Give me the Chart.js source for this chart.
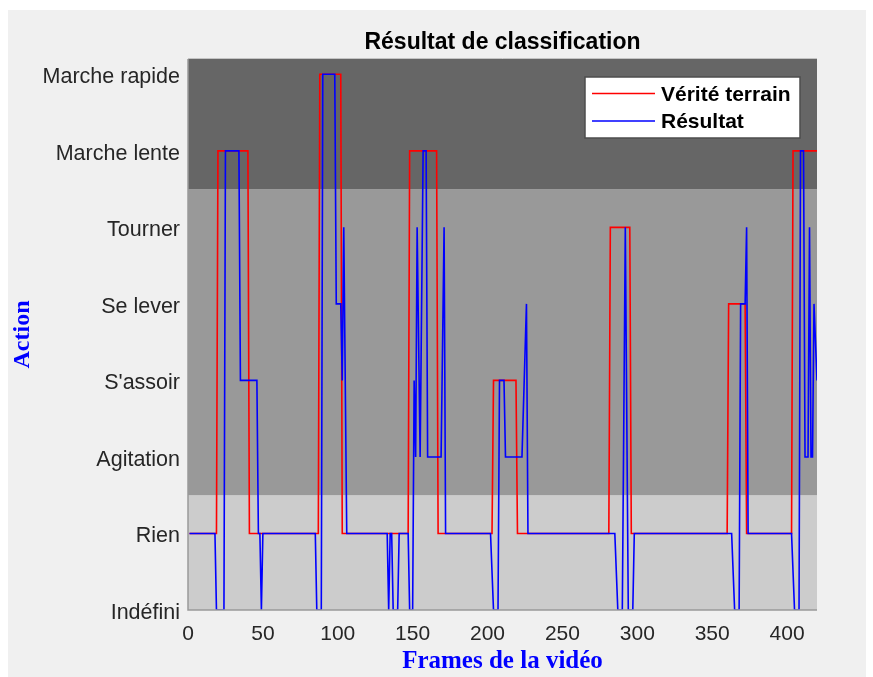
<!DOCTYPE html>
<html>
<head>
<meta charset="utf-8">
<script src="https://cdn.jsdelivr.net/npm/chart.js@4"></script>
<style>
  html, body { margin: 0; padding: 0; background: #ffffff; }
  #panel { position: absolute; left: 8px; top: 10px; width: 858px; height: 667px; background: #f0f0f0; }
  #c { position: absolute; left: 0; top: 0; }
</style>
</head>
<body>
<div id="panel"></div>
<canvas id="c" width="873" height="677"></canvas>
<script>
// ---- data ----
const yLabels = ['Indéfini', 'Rien', 'Agitation', "S'assoir", 'Se lever', 'Tourner', 'Marche lente', 'Marche rapide'];
const xTicks = [0, 50, 100, 150, 200, 250, 300, 350, 400];
const lastFrame = 420;

// Vérité terrain: segment start frames and their class index
const gtStart = [1, 20, 41, 88, 103, 148, 167, 204, 220, 282, 296, 361, 373, 404];
const gtLabel = [1, 6, 1, 7, 1, 6, 1, 3, 1, 5, 1, 4, 1, 6];

// Résultat: vertices (frame, class index)
const resFrames = [1, 18, 19, 24, 25, 34, 35, 46, 47, 48, 49, 50, 85, 86, 89, 90, 98, 99, 102, 103, 104, 106,
  133, 134, 135, 136, 137, 140, 141, 147, 148, 150, 151, 152, 153, 155, 157, 159, 160, 169, 171, 172,
  202, 204, 207, 208, 211, 212, 223, 226, 227,
  285, 287, 290, 292, 294, 297, 298,
  363, 365, 368, 369, 372, 373, 374,
  403, 405, 408, 409, 411, 412, 414, 415, 416, 417, 418, 420];
const resLabels = [1, 1, 0, 0, 6, 6, 3, 3, 1, 1, 0, 1, 1, 0, 0, 7, 7, 4, 4, 3, 5, 1,
  1, 0, 1, 1, 0, 0, 1, 1, 0, 0, 3, 2, 5, 2, 6, 6, 2, 2, 5, 1,
  1, 0, 0, 3, 3, 2, 2, 4, 1,
  1, 0, 0, 5, 0, 0, 1,
  1, 0, 0, 4, 4, 5, 1,
  1, 0, 0, 6, 6, 2, 2, 5, 2, 2, 4, 3];

// background bands (class-index ranges) and their colours
const bandEdges = [0, 1.5, 5.5, 7.2];
const bandColors = ['#cccccc', '#999999', '#666666'];

// ---- build points ----
const gtPoints = [];
for (let i = 0; i < gtStart.length; i++) {
  const end = i < gtStart.length - 1 ? gtStart[i + 1] - 1 : lastFrame;
  gtPoints.push({ x: gtStart[i], y: gtLabel[i] });
  gtPoints.push({ x: end, y: gtLabel[i] });
}
const resPoints = resFrames.map((f, i) => ({ x: f, y: resLabels[i] }));

const bandsPlugin = {
  id: 'bands',
  beforeDatasetsDraw(chart) {
    const { ctx, chartArea: a, scales: { y } } = chart;
    ctx.save();
    for (let i = 0; i < bandColors.length; i++) {
      const top = Math.max(a.top, y.getPixelForValue(bandEdges[i + 1]));
      const bot = Math.min(a.bottom, y.getPixelForValue(bandEdges[i]));
      ctx.fillStyle = bandColors[i];
      ctx.fillRect(a.left, top, a.right - a.left, bot - top);
    }
    ctx.restore();
  },
  afterDatasetsDraw(chart) {
    const { ctx, chartArea: a } = chart;
    ctx.save();
    ctx.strokeStyle = '#c4c4c4';
    ctx.lineWidth = 1;
    ctx.beginPath();
    ctx.moveTo(a.left, a.top - 0.5);
    ctx.lineTo(a.right, a.top - 0.5);
    ctx.stroke();
    ctx.strokeStyle = '#999999';
    ctx.lineWidth = 1.5;
    ctx.beginPath();
    ctx.moveTo(a.left, a.top);
    ctx.lineTo(a.left, a.bottom);
    ctx.lineTo(a.right, a.bottom);
    ctx.stroke();
    ctx.restore();
  }
};

const legendPlugin = {
  id: 'boxLegend',
  afterDraw(chart) {
    const { ctx } = chart;
    const box = { l: 585, t: 77, r: 800, b: 138 };
    ctx.save();
    ctx.fillStyle = '#ffffff';
    ctx.fillRect(box.l, box.t, box.r - box.l, box.b - box.t);
    ctx.strokeStyle = '#4d4d4d';
    ctx.lineWidth = 1.5;
    ctx.strokeRect(box.l, box.t, box.r - box.l, box.b - box.t);
    const items = [chart.data.datasets[1], chart.data.datasets[0]];
    const rows = [93.5, 121];
    ctx.font = 'bold 21px "Liberation Sans", Arial, sans-serif';
    ctx.textBaseline = 'middle';
    ctx.textAlign = 'left';
    items.forEach((ds, i) => {
      ctx.strokeStyle = ds.borderColor;
      ctx.lineWidth = 1.6;
      ctx.beginPath();
      ctx.moveTo(592, rows[i]);
      ctx.lineTo(655, rows[i]);
      ctx.stroke();
      ctx.fillStyle = '#000000';
      ctx.fillText(ds.label, 661, rows[i] + 1.5);
    });
    ctx.restore();
  }
};

new Chart(document.getElementById('c'), {
  type: 'line',
  data: {
    datasets: [
      { label: 'Résultat', data: resPoints, borderColor: '#0000ff', borderWidth: 1.6, pointRadius: 0, tension: 0, order: 0 },
      { label: 'Vérité terrain', data: gtPoints, borderColor: '#ff0000', borderWidth: 1.6, pointRadius: 0, tension: 0, order: 1 }
    ]
  },
  options: {
    responsive: false,
    animation: false,
    devicePixelRatio: 1,
    layout: { padding: { left: 0, right: 56, top: 10, bottom: 0 } },
    plugins: {
      legend: { display: false },
      tooltip: { enabled: false },
      title: {
        display: true,
        fullSize: false,
        text: 'Résultat de classification',
        color: '#000000',
        font: { family: '"Liberation Sans", Arial, sans-serif', size: 23, weight: 'bold' },
        padding: { top: 18.4, bottom: 3 }
      }
    },
    scales: {
      x: {
        type: 'linear',
        min: 0,
        max: lastFrame,
        afterBuildTicks(scale) { scale.ticks = xTicks.map(v => ({ value: v })); },
        afterFit(scale) { scale.height = 67; },
        grid: { display: false, drawTicks: false },
        border: { display: false },
        ticks: {
          color: '#262626',
          padding: 12,
          maxRotation: 0,
          autoSkip: false,
          font: { family: '"Liberation Sans", Arial, sans-serif', size: 21 }
        },
        title: {
          display: true,
          text: 'Frames de la vidéo',
          color: '#0000ff',
          font: { family: '"Liberation Serif", "Times New Roman", serif', size: 25, weight: 'bold' },
          padding: { top: 0, bottom: 0 }
        }
      },
      y: {
        type: 'linear',
        min: 0,
        max: 7.2,
        afterBuildTicks(scale) { scale.ticks = yLabels.map((_, i) => ({ value: i })); },
        afterFit(scale) { scale.width = 188; },
        grid: { display: false, drawTicks: false },
        border: { display: false },
        ticks: {
          color: '#262626',
          padding: 8,
          labelOffset: 3,
          autoSkip: false,
          callback: v => yLabels[v],
          font: { family: '"Liberation Sans", Arial, sans-serif', size: 21.5 }
        },
        title: {
          display: true,
          text: 'Action',
          color: '#0000ff',
          font: { family: '"Liberation Serif", "Times New Roman", serif', size: 24, weight: 'bold' },
          padding: { top: 8, bottom: 0 }
        }
      }
    }
  },
  plugins: [bandsPlugin, legendPlugin]
});
</script>
</body>
</html>
